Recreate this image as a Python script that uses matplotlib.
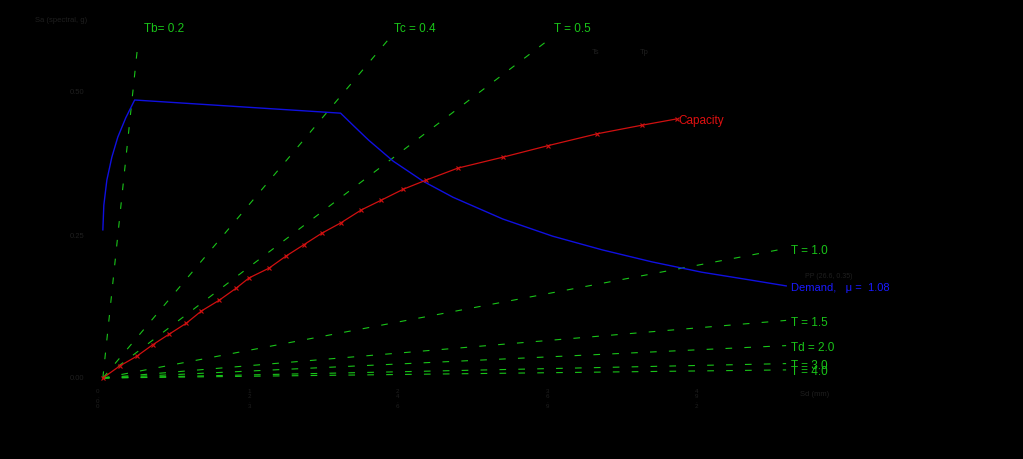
import numpy as np
import matplotlib
matplotlib.use("Agg")
import matplotlib.pyplot as plt

plt.rcParams['font.family'] = ['Liberation Sans', 'DejaVu Sans']

# ---- data (Sd in mm, Sa in g) ----
cap_sd = [0.0, 1.39, 2.79, 4.10, 5.49, 6.89, 8.11, 9.59, 10.98, 12.05, 13.69, 15.08,
          16.56, 18.03, 19.59, 21.31, 22.95, 24.75, 26.64, 29.26, 32.95, 36.64, 40.74,
          44.43, 47.30]
cap_sa = [0.0, 0.021, 0.038, 0.058, 0.077, 0.096, 0.117, 0.136, 0.157, 0.175, 0.192, 0.213,
          0.233, 0.253, 0.271, 0.294, 0.311, 0.330, 0.346, 0.367, 0.386, 0.406, 0.427,
          0.442, 0.453]

dem_sd = [0.0, 0.08, 0.33, 0.74, 1.23, 1.89, 2.62, 19.59, 20.66, 21.89, 23.93, 26.39,
          28.85, 32.95, 37.05, 41.15, 45.25, 49.34, 53.44, 56.31]
dem_sa = [0.259, 0.302, 0.346, 0.386, 0.421, 0.455, 0.486, 0.463, 0.441, 0.416, 0.379,
          0.344, 0.316, 0.278, 0.248, 0.224, 0.203, 0.185, 0.171, 0.161]

periods = [0.141, 0.4, 0.5, 1.0, 1.5, 2.0, 3.0, 4.0]
period_labels = ["Tb= 0.2", "Tc = 0.4", "T = 0.5", "T = 1.0", "T = 1.5", "Td = 2.0",
                 "T = 3.0", "T = 4.0"]

y_ticks = [0.0, 0.25, 0.50]
y_tick_labels = ["0.00", "0.25", "0.50"]
x_ticks = [-0.4, 12.05, 24.3, 36.6, 48.9]
x_tick_labels = ["0.00", "12.3", "24.6", "36.9", "49.2"]

ductility = 1.08
SD_MAX = 56.3
SA_MAX = 0.591
G_MM = 9810.0

# ---- figure ----
W, H = 1023, 459
fig = plt.figure(figsize=(W / 100, H / 100), dpi=100, facecolor='black')
px_per_mm = 12.2
px_per_g = 572.0
ax = fig.add_axes([98 / W, 81 / H, 925 / W, 378 / H], facecolor='black')
ax.set_xlim(0, 925 / px_per_mm)
ax.set_ylim(0, 378 / px_per_g)
for sp in ax.spines.values():
    sp.set_visible(False)

green = '#19c419'
dark = '#1f1f1f'

# period radial lines
for T, lab in zip(periods, period_labels):
    k = 4 * np.pi ** 2 / T ** 2 / G_MM
    sd_end = min(SD_MAX, SA_MAX / k)
    sa_end = k * sd_end
    ax.plot([0, sd_end], [0, sa_end], color=green, lw=0.8, dashes=(6, 11), clip_on=False)
    if sd_end < SD_MAX:
        ax.text(sd_end + 0.5, sa_end + 0.009, lab, color=green, fontsize=8.5,
                ha='left', va='bottom', clip_on=False)
    else:
        ax.text(sd_end + 0.4, sa_end - 0.004, lab, color=green, fontsize=8.5,
                ha='left', va='center', clip_on=False)

# demand
ax.plot(dem_sd, dem_sa, color='#1010e0', lw=1.0, clip_on=False)
ax.text(dem_sd[-1] + 0.4, dem_sa[-1] - 0.004, f"Demand,   \u03bc =  {ductility:.2f}",
        color='#1a1aff', fontsize=8, ha='left', va='center')

# capacity
ax.plot(cap_sd, cap_sa, color='#d01010', lw=0.9, marker='x', ms=3.5, mew=0.8,
        clip_on=False)
ax.text(cap_sd[-1] + 0.1, cap_sa[-1] - 0.004, "Capacity", color='#e01010', fontsize=8.5,
        ha='left', va='center')

# faint texts
ax.set_yticks(y_ticks)
ax.set_yticklabels(y_tick_labels, color=dark, fontsize=5.5)
ax.set_xticks(x_ticks)
ax.set_xticklabels(["\n".join(s) for s in x_tick_labels], color=dark, fontsize=4.5,
                   linespacing=1.0)
ax.tick_params(length=0, pad=10)
ax.tick_params(axis='x', pad=8)
fig.text(35 / W, 1 - 21 / H, "Sa (spectral, g)", color=dark, fontsize=5.5, va='center')
fig.text(800 / W, 1 - 394 / H, "Sd (mm)", color=dark, fontsize=5.5, va='center')
fig.text(592 / W, 1 - 52 / H, "Ts", color=dark, fontsize=5.5, va='center')
fig.text(640 / W, 1 - 52 / H, "Tp", color=dark, fontsize=5.5, va='center')
fig.text(805 / W, 1 - 277 / H, "PP (26.6, 0.35)", color=dark, fontsize=5, va='center')

fig.savefig("out.png", dpi=100, facecolor='black')
